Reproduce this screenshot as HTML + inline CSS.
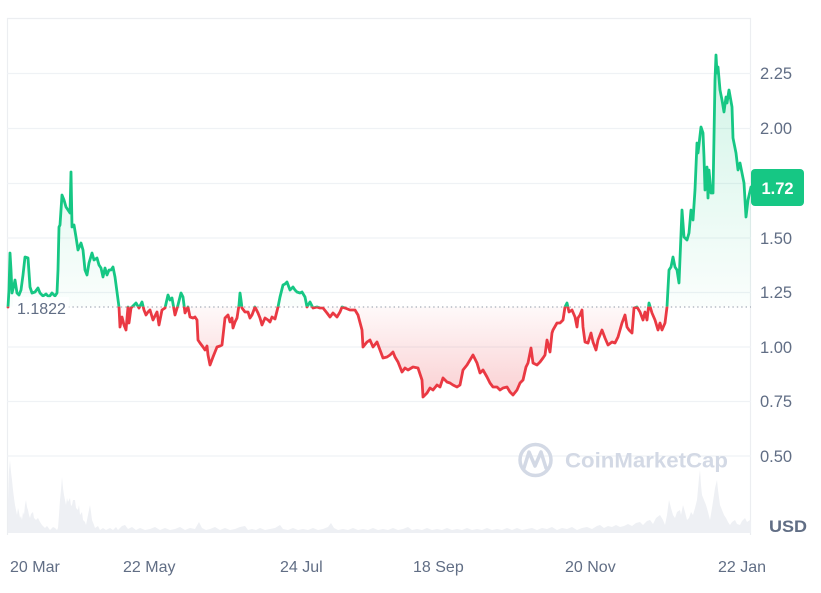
<!DOCTYPE html>
<html><head><meta charset="utf-8">
<style>
html,body{margin:0;padding:0;background:#fff;}
svg{display:block;font-family:"Liberation Sans",sans-serif;}
</style></head>
<body>
<svg width="821" height="593" viewBox="0 0 821 593" xmlns="http://www.w3.org/2000/svg">
<defs>
<clipPath id="above"><rect x="0" y="0" width="821" height="306.6"/></clipPath>
<clipPath id="below"><rect x="0" y="306.6" width="821" height="300"/></clipPath>
<linearGradient id="gg" x1="0" y1="55" x2="0" y2="307" gradientUnits="userSpaceOnUse">
<stop offset="0" stop-color="#16c784" stop-opacity="0.2"/>
<stop offset="1" stop-color="#16c784" stop-opacity="0.02"/>
</linearGradient>
<linearGradient id="rg" x1="0" y1="307" x2="0" y2="397" gradientUnits="userSpaceOnUse">
<stop offset="0" stop-color="#ea3943" stop-opacity="0.03"/>
<stop offset="1" stop-color="#ea3943" stop-opacity="0.24"/>
</linearGradient>
</defs>

<!-- frame -->
<line x1="7.5" y1="18" x2="7.5" y2="535" stroke="#eceef1" stroke-width="1.2"/>
<line x1="750.5" y1="18" x2="750.5" y2="535" stroke="#eceef1" stroke-width="1.2"/>
<line x1="7" y1="18.5" x2="751" y2="18.5" stroke="#eceef1" stroke-width="1.2"/>
<!-- grid -->
<g stroke="#eff2f5" stroke-width="1.2">
<line x1="7" y1="73.5" x2="751" y2="73.5"/>
<line x1="7" y1="128.5" x2="751" y2="128.5"/>
<line x1="7" y1="183.5" x2="751" y2="183.5"/>
<line x1="7" y1="238" x2="751" y2="238"/>
<line x1="7" y1="292.5" x2="751" y2="292.5"/>
<line x1="7" y1="347" x2="751" y2="347"/>
<line x1="7" y1="401.5" x2="751" y2="401.5"/>
<line x1="7" y1="456" x2="751" y2="456"/>
</g>

<!-- volume -->
<polygon fill="#eef0f4" points="8,533 8,500 9,470 10,460 11,472 12,480 13,490 14,498 15,505 16,510 17,515 18,508 19,512 20,518 21,516 22,520 23,512 24,515 25,505 26,500 27,507 28,510 29,515 30,518 31,514 33,512 34,518 36,520 38,518 40,522 42,525 45,528 47,526 50,530 53,527 55,528 57,530 58,528 59,515 60,500 61,490 62,477 63,488 64,495 65,500 66,505 67,498 68,502 70,498 71,506 72,505 73,500 75,500 76,508 78,510 79,505 80,515 82,512 83,520 85,522 86,525 88,515 90,505 91,512 92,520 94,525 95,528 98,526 100,530 103,528 106,530 110,528 113,530 116,527 118,530 122,526 125,525 128,529 132,527 136,530 140,528 145,530 150,529 155,527 160,530 165,528 170,530 175,529 180,527 185,530 190,528 195,529 199,522 202,528 206,530 210,529 215,527 220,530 225,528 230,530 235,529 240,527 245,526 248,530 252,529 256,530 260,528 265,530 270,529 275,528 280,525 283,529 288,530 293,528 298,530 303,529 308,530 313,528 318,530 323,529 328,527 331,523 334,528 338,530 343,529 348,530 353,528 358,530 363,529 368,530 373,528 378,530 383,529 388,530 393,528 398,530 403,529 408,527 412,530 417,529 422,530 427,528 432,530 437,529 442,530 447,528 452,530 457,529 462,530 467,528 472,530 477,529 482,530 487,528 492,530 497,529 502,530 507,528 512,530 517,528 522,530 527,529 532,528 537,530 542,528 547,529 552,527 557,530 562,528 567,529 572,527 577,530 582,528 587,527 592,529 597,526 600,525 604,528 608,526 612,527 616,525 620,527 624,526 628,524 632,526 636,523 640,522 643,525 647,521 650,520 653,524 656,518 660,515 663,520 665,525 667,515 669,500 671,508 673,515 675,518 677,512 680,510 681,515 683,505 685,512 687,520 689,518 691,512 693,515 695,508 697,500 699,478 700,470 701,485 702,495 704,500 706,505 708,512 710,520 712,508 714,495 715,488 717,480 718,490 720,505 722,510 724,515 726,518 728,522 730,525 732,522 735,520 737,524 740,525 742,521 745,518 747,522 750,520 751,522 751,533"/>

<!-- watermark -->
<g>
<circle cx="535.5" cy="460" r="15.5" fill="none" stroke="#d3d9e5" stroke-width="3.5"/>
<path d="M524,468 L529,452 L535,466 L541,452 L546,468" fill="none" stroke="#d3d9e5" stroke-width="3.5" stroke-linejoin="round" stroke-linecap="round"/>
<text x="565" y="467.5" font-size="21" font-weight="700" fill="#d3d9e5" textLength="163" lengthAdjust="spacingAndGlyphs">CoinMarketCap</text>
</g>

<polygon clip-path="url(#above)" fill="url(#gg)" points="8,306.6 8,307 9,290 10,253 11,270 12,293 14,285 15,280 17,293 19,295 21,290 23,275 25,257 28,258 30,287 32,293 35,292 38,288 40,293 43,296 46,294 49,297 52,293 55,296 57,293 58,270 59,227 60,225 62,195 64,200 66,207 68,210 70,213 71,172 72,227 74,225 76,237 78,250 81,243 83,250 85,270 87,275 89,263 92,253 94,260 97,258 99,265 101,268 103,277 105,268 107,275 109,270 111,270 113,267 115,277 117,292 119,307 120,327 122,317 124,325 126,330 128,307 129,323 131,308 134,305 136,303 139,308 142,302 144,310 146,315 148,312 150,310 153,320 155,316 157,312 159,325 162,310 165,308 168,295 170,300 172,298 175,315 178,305 181,293 183,297 185,313 188,307 190,317 193,318 195,317 197,320 198,340 200,343 203,347 205,350 207,346 208,355 210,365 213,357 215,352 217,347 220,346 222,345 225,318 228,315 230,322 232,318 233,328 235,322 237,318 239,305 240,293 241,300 242,308 245,312 248,312 250,318 252,315 255,307 258,313 260,318 262,325 265,318 268,320 270,322 272,317 275,319 278,307 280,297 283,285 285,284 287,282 290,290 293,287 295,290 297,292 300,293 302,292 305,297 307,307 310,302 313,308 317,307 320,308 323,308 327,313 330,317 333,313 337,317 340,312 342,307 345,308 350,310 355,310 358,315 362,330 363,347 367,342 370,340 373,347 377,342 380,350 383,358 387,357 390,355 393,352 395,357 398,362 402,372 405,368 408,370 413,367 418,368 422,380 423,397 427,393 430,388 433,390 437,385 440,387 443,378 447,382 450,383 453,385 457,387 460,385 463,370 467,365 470,360 473,355 477,363 480,373 483,370 487,377 490,383 493,387 497,387 500,390 503,388 507,387 510,392 513,395 517,390 520,383 523,380 526,367 528,363 531,348 533,363 537,365 540,362 543,358 545,355 547,340 550,352 552,333 553,330 557,323 560,323 563,320 565,307 567,303 569,312 572,310 575,317 577,327 578,318 580,315 582,310 583,327 585,342 588,343 591,333 593,342 596,350 598,340 602,330 605,338 608,345 612,342 615,343 618,337 622,323 625,315 627,327 629,330 632,333 634,308 637,307 640,312 643,320 645,312 647,320 649,303 652,313 655,320 658,330 660,323 662,330 665,323 667,307 669,270 671,267 673,257 675,267 677,270 679,283 682,210 684,237 687,240 689,233 691,210 693,220 695,190 697,143 698,153 701,127 703,133 704,157 705,190 707,167 708,198 709,170 711,193 713,193 714,137 715,80 716,55 717,73 718,67 720,90 722,100 724,112 726,97 727,103 729,90 732,107 733,138 736,153 738,170 740,163 742,173 744,183 746,217 748,200 751,187 751,306.6"/>
<polygon clip-path="url(#below)" fill="url(#rg)" points="8,306.6 8,307 9,290 10,253 11,270 12,293 14,285 15,280 17,293 19,295 21,290 23,275 25,257 28,258 30,287 32,293 35,292 38,288 40,293 43,296 46,294 49,297 52,293 55,296 57,293 58,270 59,227 60,225 62,195 64,200 66,207 68,210 70,213 71,172 72,227 74,225 76,237 78,250 81,243 83,250 85,270 87,275 89,263 92,253 94,260 97,258 99,265 101,268 103,277 105,268 107,275 109,270 111,270 113,267 115,277 117,292 119,307 120,327 122,317 124,325 126,330 128,307 129,323 131,308 134,305 136,303 139,308 142,302 144,310 146,315 148,312 150,310 153,320 155,316 157,312 159,325 162,310 165,308 168,295 170,300 172,298 175,315 178,305 181,293 183,297 185,313 188,307 190,317 193,318 195,317 197,320 198,340 200,343 203,347 205,350 207,346 208,355 210,365 213,357 215,352 217,347 220,346 222,345 225,318 228,315 230,322 232,318 233,328 235,322 237,318 239,305 240,293 241,300 242,308 245,312 248,312 250,318 252,315 255,307 258,313 260,318 262,325 265,318 268,320 270,322 272,317 275,319 278,307 280,297 283,285 285,284 287,282 290,290 293,287 295,290 297,292 300,293 302,292 305,297 307,307 310,302 313,308 317,307 320,308 323,308 327,313 330,317 333,313 337,317 340,312 342,307 345,308 350,310 355,310 358,315 362,330 363,347 367,342 370,340 373,347 377,342 380,350 383,358 387,357 390,355 393,352 395,357 398,362 402,372 405,368 408,370 413,367 418,368 422,380 423,397 427,393 430,388 433,390 437,385 440,387 443,378 447,382 450,383 453,385 457,387 460,385 463,370 467,365 470,360 473,355 477,363 480,373 483,370 487,377 490,383 493,387 497,387 500,390 503,388 507,387 510,392 513,395 517,390 520,383 523,380 526,367 528,363 531,348 533,363 537,365 540,362 543,358 545,355 547,340 550,352 552,333 553,330 557,323 560,323 563,320 565,307 567,303 569,312 572,310 575,317 577,327 578,318 580,315 582,310 583,327 585,342 588,343 591,333 593,342 596,350 598,340 602,330 605,338 608,345 612,342 615,343 618,337 622,323 625,315 627,327 629,330 632,333 634,308 637,307 640,312 643,320 645,312 647,320 649,303 652,313 655,320 658,330 660,323 662,330 665,323 667,307 669,270 671,267 673,257 675,267 677,270 679,283 682,210 684,237 687,240 689,233 691,210 693,220 695,190 697,143 698,153 701,127 703,133 704,157 705,190 707,167 708,198 709,170 711,193 713,193 714,137 715,80 716,55 717,73 718,67 720,90 722,100 724,112 726,97 727,103 729,90 732,107 733,138 736,153 738,170 740,163 742,173 744,183 746,217 748,200 751,187 751,306.6"/>

<!-- baseline dotted -->
<line x1="68" y1="307" x2="751" y2="307" stroke="#a6adb9" stroke-width="1.3" stroke-dasharray="1.4 3"/>

<!-- price lines -->
<g fill="none" stroke-width="2.8" stroke-linejoin="round" stroke-linecap="round">
<polyline clip-path="url(#above)" stroke="#16c784" points="8,307 9,290 10,253 11,270 12,293 14,285 15,280 17,293 19,295 21,290 23,275 25,257 28,258 30,287 32,293 35,292 38,288 40,293 43,296 46,294 49,297 52,293 55,296 57,293 58,270 59,227 60,225 62,195 64,200 66,207 68,210 70,213 71,172 72,227 74,225 76,237 78,250 81,243 83,250 85,270 87,275 89,263 92,253 94,260 97,258 99,265 101,268 103,277 105,268 107,275 109,270 111,270 113,267 115,277 117,292 119,307 120,327 122,317 124,325 126,330 128,307 129,323 131,308 134,305 136,303 139,308 142,302 144,310 146,315 148,312 150,310 153,320 155,316 157,312 159,325 162,310 165,308 168,295 170,300 172,298 175,315 178,305 181,293 183,297 185,313 188,307 190,317 193,318 195,317 197,320 198,340 200,343 203,347 205,350 207,346 208,355 210,365 213,357 215,352 217,347 220,346 222,345 225,318 228,315 230,322 232,318 233,328 235,322 237,318 239,305 240,293 241,300 242,308 245,312 248,312 250,318 252,315 255,307 258,313 260,318 262,325 265,318 268,320 270,322 272,317 275,319 278,307 280,297 283,285 285,284 287,282 290,290 293,287 295,290 297,292 300,293 302,292 305,297 307,307 310,302 313,308 317,307 320,308 323,308 327,313 330,317 333,313 337,317 340,312 342,307 345,308 350,310 355,310 358,315 362,330 363,347 367,342 370,340 373,347 377,342 380,350 383,358 387,357 390,355 393,352 395,357 398,362 402,372 405,368 408,370 413,367 418,368 422,380 423,397 427,393 430,388 433,390 437,385 440,387 443,378 447,382 450,383 453,385 457,387 460,385 463,370 467,365 470,360 473,355 477,363 480,373 483,370 487,377 490,383 493,387 497,387 500,390 503,388 507,387 510,392 513,395 517,390 520,383 523,380 526,367 528,363 531,348 533,363 537,365 540,362 543,358 545,355 547,340 550,352 552,333 553,330 557,323 560,323 563,320 565,307 567,303 569,312 572,310 575,317 577,327 578,318 580,315 582,310 583,327 585,342 588,343 591,333 593,342 596,350 598,340 602,330 605,338 608,345 612,342 615,343 618,337 622,323 625,315 627,327 629,330 632,333 634,308 637,307 640,312 643,320 645,312 647,320 649,303 652,313 655,320 658,330 660,323 662,330 665,323 667,307 669,270 671,267 673,257 675,267 677,270 679,283 682,210 684,237 687,240 689,233 691,210 693,220 695,190 697,143 698,153 701,127 703,133 704,157 705,190 707,167 708,198 709,170 711,193 713,193 714,137 715,80 716,55 717,73 718,67 720,90 722,100 724,112 726,97 727,103 729,90 732,107 733,138 736,153 738,170 740,163 742,173 744,183 746,217 748,200 751,187"/>
<polyline clip-path="url(#below)" stroke="#ea3943" points="8,307 9,290 10,253 11,270 12,293 14,285 15,280 17,293 19,295 21,290 23,275 25,257 28,258 30,287 32,293 35,292 38,288 40,293 43,296 46,294 49,297 52,293 55,296 57,293 58,270 59,227 60,225 62,195 64,200 66,207 68,210 70,213 71,172 72,227 74,225 76,237 78,250 81,243 83,250 85,270 87,275 89,263 92,253 94,260 97,258 99,265 101,268 103,277 105,268 107,275 109,270 111,270 113,267 115,277 117,292 119,307 120,327 122,317 124,325 126,330 128,307 129,323 131,308 134,305 136,303 139,308 142,302 144,310 146,315 148,312 150,310 153,320 155,316 157,312 159,325 162,310 165,308 168,295 170,300 172,298 175,315 178,305 181,293 183,297 185,313 188,307 190,317 193,318 195,317 197,320 198,340 200,343 203,347 205,350 207,346 208,355 210,365 213,357 215,352 217,347 220,346 222,345 225,318 228,315 230,322 232,318 233,328 235,322 237,318 239,305 240,293 241,300 242,308 245,312 248,312 250,318 252,315 255,307 258,313 260,318 262,325 265,318 268,320 270,322 272,317 275,319 278,307 280,297 283,285 285,284 287,282 290,290 293,287 295,290 297,292 300,293 302,292 305,297 307,307 310,302 313,308 317,307 320,308 323,308 327,313 330,317 333,313 337,317 340,312 342,307 345,308 350,310 355,310 358,315 362,330 363,347 367,342 370,340 373,347 377,342 380,350 383,358 387,357 390,355 393,352 395,357 398,362 402,372 405,368 408,370 413,367 418,368 422,380 423,397 427,393 430,388 433,390 437,385 440,387 443,378 447,382 450,383 453,385 457,387 460,385 463,370 467,365 470,360 473,355 477,363 480,373 483,370 487,377 490,383 493,387 497,387 500,390 503,388 507,387 510,392 513,395 517,390 520,383 523,380 526,367 528,363 531,348 533,363 537,365 540,362 543,358 545,355 547,340 550,352 552,333 553,330 557,323 560,323 563,320 565,307 567,303 569,312 572,310 575,317 577,327 578,318 580,315 582,310 583,327 585,342 588,343 591,333 593,342 596,350 598,340 602,330 605,338 608,345 612,342 615,343 618,337 622,323 625,315 627,327 629,330 632,333 634,308 637,307 640,312 643,320 645,312 647,320 649,303 652,313 655,320 658,330 660,323 662,330 665,323 667,307 669,270 671,267 673,257 675,267 677,270 679,283 682,210 684,237 687,240 689,233 691,210 693,220 695,190 697,143 698,153 701,127 703,133 704,157 705,190 707,167 708,198 709,170 711,193 713,193 714,137 715,80 716,55 717,73 718,67 720,90 722,100 724,112 726,97 727,103 729,90 732,107 733,138 736,153 738,170 740,163 742,173 744,183 746,217 748,200 751,187"/>
</g>

<!-- baseline label -->
<rect x="13" y="297" width="56" height="21" fill="#ffffff" fill-opacity="0.8"/>
<text x="17" y="314" font-size="16" fill="#616e85">1.1822</text>

<!-- right axis -->
<g font-size="16.5" fill="#616e85">
<text x="760" y="79">2.25</text>
<text x="760" y="134">2.00</text>
<text x="760" y="244">1.50</text>
<text x="760" y="298">1.25</text>
<text x="760" y="353">1.00</text>
<text x="760" y="407">0.75</text>
<text x="760" y="462">0.50</text>
</g>
<rect x="751" y="169" width="53" height="37" rx="4" fill="#16c784"/>
<text x="777.5" y="194" font-size="16.5" font-weight="700" fill="#ffffff" text-anchor="middle">1.72</text>

<text x="769" y="532" font-size="16.5" font-weight="700" fill="#616e85" textLength="38" lengthAdjust="spacingAndGlyphs">USD</text>

<!-- x axis -->
<g font-size="16" fill="#616e85">
<text x="10" y="572">20 Mar</text>
<text x="123" y="572">22 May</text>
<text x="280" y="572">24 Jul</text>
<text x="413" y="572">18 Sep</text>
<text x="565" y="572">20 Nov</text>
<text x="718" y="572">22 Jan</text>
</g>
</svg>
</body></html>
